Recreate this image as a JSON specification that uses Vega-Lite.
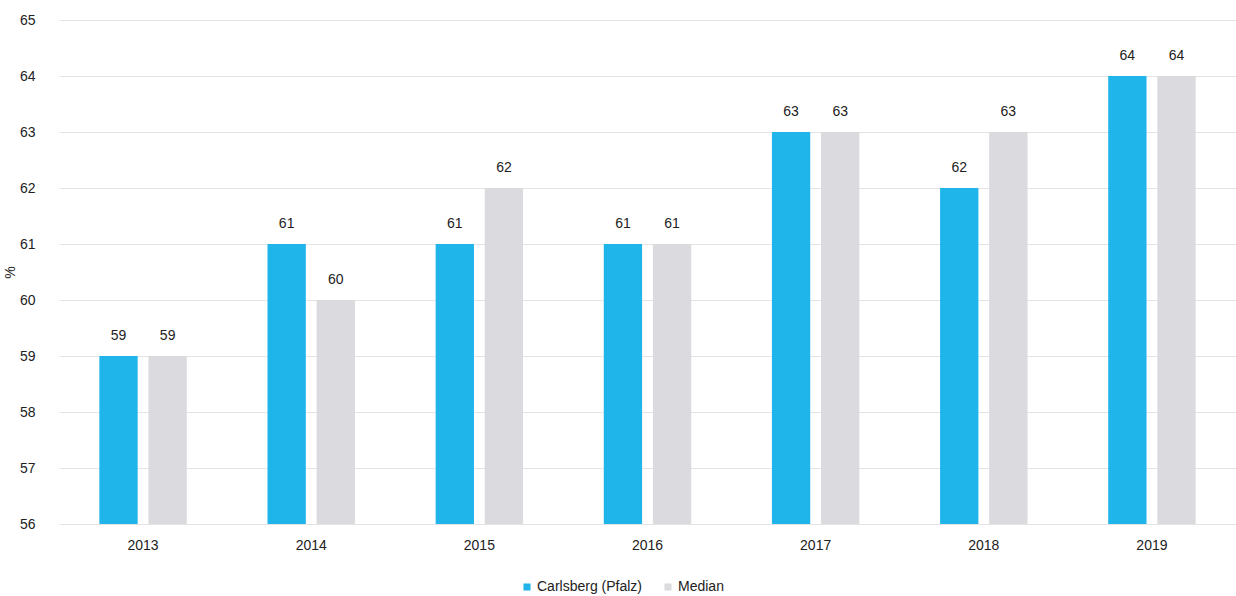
{
  "$schema": "https://vega.github.io/schema/vega-lite/v6.json",
  "autosize": {"type": "none"},
  "width": 1177,
  "height": 504,
  "padding": {"left": 59, "top": 20, "right": 0, "bottom": 72},
  "background": "white",
  "config": {
    "font": "Liberation Sans",
    "view": {"stroke": null},
    "axis": {"labelFont": "Liberation Sans", "labelFontSize": 14, "labelColor": "#222", "titleColor": "#222"}
  },
  "data": {
    "values": [
      {"year": "2013", "series": "Carlsberg (Pfalz)", "value": 59},
      {"year": "2013", "series": "Median", "value": 59},
      {"year": "2014", "series": "Carlsberg (Pfalz)", "value": 61},
      {"year": "2014", "series": "Median", "value": 60},
      {"year": "2015", "series": "Carlsberg (Pfalz)", "value": 61},
      {"year": "2015", "series": "Median", "value": 62},
      {"year": "2016", "series": "Carlsberg (Pfalz)", "value": 61},
      {"year": "2016", "series": "Median", "value": 61},
      {"year": "2017", "series": "Carlsberg (Pfalz)", "value": 63},
      {"year": "2017", "series": "Median", "value": 63},
      {"year": "2018", "series": "Carlsberg (Pfalz)", "value": 62},
      {"year": "2018", "series": "Median", "value": 63},
      {"year": "2019", "series": "Carlsberg (Pfalz)", "value": 64},
      {"year": "2019", "series": "Median", "value": 64}
    ]
  },
  "encoding": {
    "x": {
      "field": "year", "type": "nominal",
      "scale": {"paddingInner": 0.48, "paddingOuter": 0.24},
      "axis": {"title": null, "labelAngle": 0, "domain": false, "ticks": false, "labelPadding": 14, "grid": false}
    },
    "xOffset": {"field": "series", "type": "nominal", "scale": {"paddingInner": 0.22}},
    "y": {
      "field": "value", "type": "quantitative",
      "scale": {"domain": [56, 65], "zero": false, "nice": false},
      "axis": {"title": "%", "titleFontSize": 14, "titleFontWeight": "normal", "titlePadding": 2, "values": [56,57,58,59,60,61,62,63,64,65], "labelOverlap": false, "labelBound": false, "domain": false, "ticks": false, "labelPadding": 24, "gridColor": "#e4e4e4", "gridWidth": 1}
    }
  },
  "layer": [
    {
      "mark": {"type": "bar"},
      "encoding": {
        "y2": {"datum": 56},
        "color": {
          "field": "series", "type": "nominal",
          "scale": {"domain": ["Carlsberg (Pfalz)", "Median"], "range": ["#1fb4ea", "#dadadf"]},
          "legend": {
            "title": null, "orient": "none", "direction": "horizontal",
            "legendX": 461, "legendY": 560,
            "symbolType": "square", "symbolSize": 50, "symbolStrokeWidth": 0,
            "labelFontSize": 14, "labelColor": "#222", "labelFont": "Liberation Sans",
            "labelOffset": 3, "columnPadding": 18
          }
        }
      }
    },
    {
      "mark": {"type": "text", "baseline": "bottom", "dy": -13, "fontSize": 14, "color": "#222"},
      "encoding": {"text": {"field": "value", "type": "quantitative"}}
    }
  ]
}
